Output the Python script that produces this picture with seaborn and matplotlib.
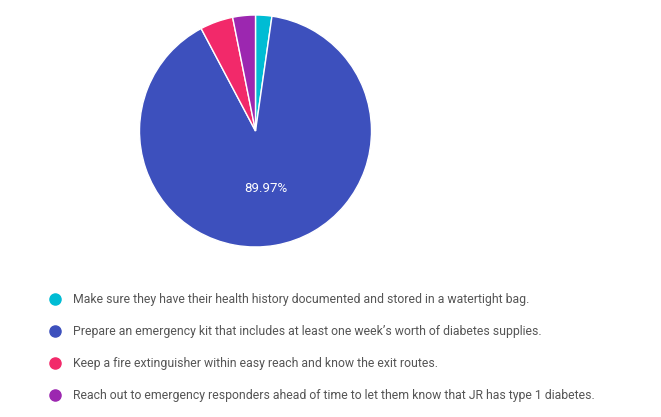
import numpy as np
import pandas as pd
import matplotlib
matplotlib.use("Agg")
import matplotlib.pyplot as plt
from matplotlib.lines import Line2D
import seaborn as sns

# Data
labels = [
    "Make sure they have their health history documented and stored in a watertight bag.",
    "Prepare an emergency kit that includes at least one week\u2019s worth of diabetes supplies.",
    "Keep a fire extinguisher within easy reach and know the exit routes.",
    "Reach out to emergency responders ahead of time to let them know that JR has type 1 diabetes.",
]
shares = [2.27, 89.97, 4.60, 3.16]
colors = ["#00BCD4", "#3D50BD", "#F2296A", "#9C27B0"]

df = pd.DataFrame({"label": labels, "share": shares})

sns.set_theme(style="white")
plt.rcParams['font.family'] = ['Roboto', 'DejaVu Sans']

W, H = 661, 417
fig = plt.figure(figsize=(W / 100, H / 100), dpi=100)

# pie placed in pixel coords: centre (255,131), radius ~115
cx, cy, r = 255.5, 131, 116
ax = fig.add_axes([(cx - r) / W, (H - cy - r) / H, 2 * r / W, 2 * r / H])


def pct(p):
    return f"{p:.2f}%" if p > 50 else ""


wedges, texts, autotexts = ax.pie(
    df["share"], colors=colors, startangle=90, counterclock=False,
    autopct=pct, pctdistance=0.5,
    wedgeprops=dict(edgecolor="white", linewidth=1),
    textprops=dict(color="white", fontsize=9.5),
)
ax.set_xlim(-1, 1)
ax.set_ylim(-1, 1)
ax.set_aspect("equal")

handles = [Line2D([0], [0], marker="o", linestyle="", markersize=8,
                  markerfacecolor=c, markeredgecolor=c) for c in colors]
leg = fig.legend(handles, df["label"], loc="upper left",
                 bbox_to_anchor=(49 / W, 1 - 293 / H), frameon=False,
                 fontsize=8.8, labelspacing=1.55, handletextpad=0.97,
                 handlelength=1.0, borderaxespad=0, borderpad=0)
for t in leg.get_texts():
    t.set_color("#555555")

fig.savefig("out.png", dpi=100, facecolor="white")
